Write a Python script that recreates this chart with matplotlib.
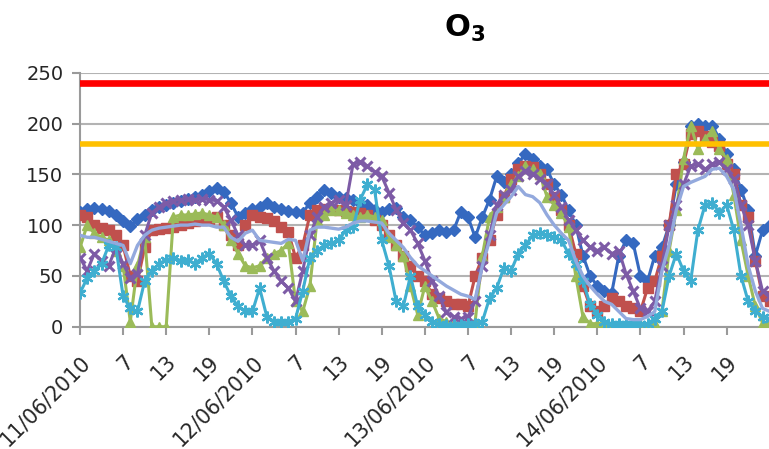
import matplotlib
matplotlib.use("Agg")
import matplotlib.pyplot as plt

# ---------------- data ----------------
dates = ["11/06/2010", "12/06/2010", "13/06/2010", "14/06/2010", "15/06/2010"]
hour_labels = [str(h) for h in range(2, 25)]
categories = []
for d in dates:
    categories += [d] + hour_labels

limit_alert = 240
limit_info = 180

blue = [113,116,117,116,114,110,104,99,106,110,115,118,120,122,124,126,128,130,134,137,133,122,108,112,
        116,118,122,118,116,114,113,112,122,128,135,132,128,127,125,122,120,115,113,116,117,108,105,98,
        90,92,95,93,95,113,108,88,108,125,148,142,150,161,170,165,158,155,140,130,115,100,70,50,
        40,35,33,70,85,82,50,45,70,78,100,140,162,198,200,198,198,185,170,155,135,115,70,95,100]

red = [110,108,100,97,95,90,80,50,45,78,95,96,97,98,100,102,104,105,106,108,100,90,80,100,
       110,108,107,104,98,93,68,80,110,115,116,116,115,114,113,112,110,105,100,90,80,70,60,50,
       45,32,28,25,22,22,20,50,68,85,110,128,145,155,158,157,150,140,128,115,100,72,40,20,
       15,20,28,25,20,18,15,38,45,70,100,150,160,190,193,188,182,178,160,150,120,108,65,30,25]

green = [78,100,92,88,85,75,60,5,60,88,0,0,0,108,110,110,111,112,110,108,100,85,72,60,
         58,60,68,72,75,82,25,15,40,105,110,115,115,112,110,108,110,108,105,88,80,70,40,12,
         40,25,8,5,3,2,3,5,70,108,118,128,140,148,158,155,150,128,120,112,98,50,10,3,
         3,3,2,2,3,3,3,2,3,15,75,115,165,198,175,185,193,175,165,130,85,50,20,4,3]

purple = [68,55,72,65,60,78,62,48,52,90,112,118,122,124,125,126,125,126,125,124,118,105,90,80,
          80,85,68,55,45,38,25,55,90,108,118,122,125,120,160,162,158,152,148,132,115,102,95,82,
          65,45,30,14,10,8,10,25,60,90,120,130,135,148,153,150,145,140,130,118,105,95,85,78,
          75,78,72,75,52,35,18,15,25,60,100,120,140,158,160,155,160,162,155,145,120,100,65,35,30]

cyan = [33,48,55,62,80,78,30,18,15,45,55,62,66,68,65,66,62,68,72,62,45,30,20,15,
        15,38,10,5,5,5,8,35,68,75,80,82,85,95,98,125,140,135,85,60,25,20,50,20,
        12,5,3,2,2,2,3,3,5,28,38,58,55,72,80,90,92,90,88,85,72,62,45,22,
        12,5,3,3,3,3,3,3,8,15,50,72,55,45,95,120,122,112,120,95,50,25,15,10,8]

lightblue = [90,88,88,86,84,82,80,62,80,90,95,97,98,99,100,100,101,100,100,98,98,88,84,92,
             95,85,84,83,82,86,85,65,95,98,98,97,96,98,102,104,104,103,102,92,85,78,68,60,
             55,50,45,40,36,32,30,27,60,85,112,120,128,138,130,128,122,110,100,92,85,65,50,40,
             32,25,22,15,8,7,7,10,15,55,80,115,138,142,145,148,155,156,148,135,100,60,35,18,15]

series = [
    (blue, "#3569C0", "D", 6.5, 1.0),
    (red, "#C0504D", "s", 6.5, 1.0),
    (green, "#9BBB59", "^", 7.5, 1.0),
    (purple, "#7D5BA6", "x", 7.5, 2.2),
    (cyan, "#3FAED0", (6, 2, 0), 8.5, 1.7),
    (lightblue, "#93A9DD", None, 0, 1.0),
]

# ---------------- figure ----------------
fig = plt.figure(figsize=(7.69, 4.49), dpi=100)
ax = fig.add_axes([80 / 769, (449 - 326.7) / 449, 1 - 80 / 769, 254 / 449])

x = list(range(len(blue)))
for vals, col, mk, ms, mew in series:
    if mk is None:
        ax.plot(x, vals, color=col, lw=2.4, zorder=4)
    else:
        ax.plot(x, vals, color=col, lw=2.2, marker=mk, markersize=ms,
                markeredgewidth=mew, markeredgecolor=col, markerfacecolor=col, zorder=3)

ax.axhline(limit_alert, color="#FF0000", lw=4.8, zorder=5)
ax.axhline(limit_info, color="#FFC000", lw=4, zorder=5)

ax.set_xlim(0, 95.9)
ax.set_ylim(0, 250)
ax.set_yticks(range(0, 251, 50))
ax.yaxis.grid(True, color="#B3B3B3", lw=1.5)
ax.set_axisbelow(True)

tick_pos = list(range(0, 91, 6))
ax.set_xticks(tick_pos)
ax.set_xticklabels([categories[i] for i in tick_pos], rotation=45, ha="right",
                   va="top", rotation_mode="anchor")

for s in ["top", "right"]:
    ax.spines[s].set_visible(False)
for s in ["left", "bottom"]:
    ax.spines[s].set_color("#9A9A9A")
    ax.spines[s].set_linewidth(1.5)

ax.tick_params(axis="both", colors="#9A9A9A", width=1.5, length=6, labelcolor="#262626")
ax.tick_params(axis="y", labelsize=14, pad=6)
ax.tick_params(axis="x", labelsize=14.8, pad=12)

fig.text(465 / 769, 1 - 28 / 449, r"$\mathbf{O_3}$", ha="center", va="center",
         fontsize=22, color="black")

fig.savefig("out.png", dpi=100)
